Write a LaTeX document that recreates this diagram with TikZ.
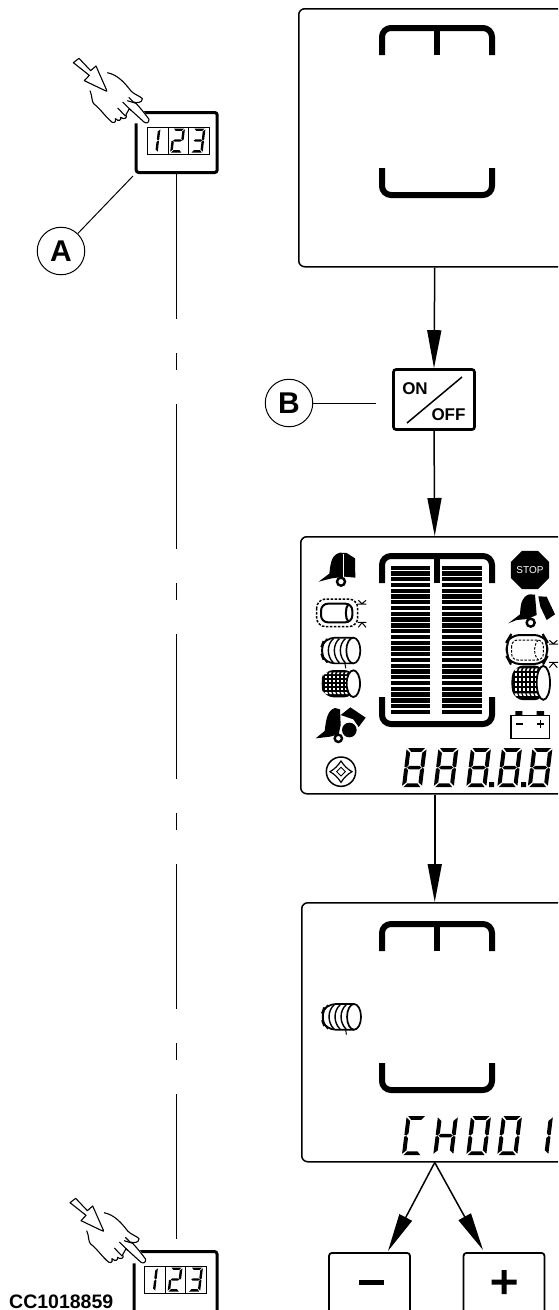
\documentclass[tikz,border=0pt]{standalone}
\usepackage{fontspec}
\setmainfont{Liberation Sans}
\usetikzlibrary{arrows.meta,shapes.geometric,calc}
\tikzset{
 panel/.style={draw=black,line width=1.5pt,rounded corners=6pt,fill=white,inner sep=0pt,anchor=north west},
 devbox/.style={draw=black,line width=3pt,rounded corners=2.5pt,fill=white,inner sep=0pt,minimum width=81pt,minimum height=60pt,anchor=north},
 onoffbox/.style={draw=black,line width=2.6pt,rounded corners=2.5pt,fill=white,inner sep=0pt,minimum width=81pt,minimum height=60pt},
 btnbox/.style={draw=black,line width=1.8pt,rounded corners=3pt,fill=white,inner sep=0pt,minimum width=81pt,minimum height=80pt,anchor=north},
 callout/.style={draw=black,line width=1pt,circle,minimum size=47.5pt,inner sep=0pt,font=\fontsize{30}{30}\selectfont\bfseries},
 arr/.style={line width=1.5pt,-{Triangle[length=38pt,width=14pt]}},
 lead/.style={line width=1pt},
 brk/.style={line width=6pt,rounded corners=9pt},
 lbl/.style={font=\fontsize{17}{17}\selectfont\bfseries,inner sep=0pt},
 icon/.style={shift={(290,525)},scale=1/3}
}
\def\sega{(1.5,0)--(18.5,0)--(15,4)--(5,4)--cycle}
\def\segb{(20,1.5)--(20,19)--(18,20)--(16,17.5)--(16,5)--cycle}
\def\segc{(20,21)--(20,38.5)--(16,35)--(16,22.5)--(18,20.5)--cycle}
\def\segd{(1.5,40)--(18.5,40)--(15,36)--(5,36)--cycle}
\def\sege{(0,21)--(2,20.5)--(4,22.5)--(4,35)--(0,38.5)--cycle}
\def\segf{(0,1.5)--(4,5)--(4,17.5)--(2,20)--(0,19)--cycle}
\def\segg{(2.8,20)--(5,18.3)--(15,18.3)--(17.2,20)--(15,21.7)--(5,21.7)--cycle}
\newcommand\sdig[5]{\begin{scope}[shift={(#1,#2)},xscale=#3,yscale=#4,xslant=.12]
 \foreach \s in {#5}{\fill \csname seg\s\endcsname;}\end{scope}}
\newcommand\bdig[3]{\sdig{#1}{#2}{1}{.98}{#3}}
\newcommand\disp[2]{\begin{scope}[shift={(#1,#2)}]
 \draw[line width=.8pt] (0,0) rectangle (62,27) (21,0)--(21,27) (41,0)--(41,27);
 \sdig{1.5}{1.5}{.6}{.6}{b,c}
 \sdig{26}{1.5}{.6}{.6}{a,b,g,e,d}
 \sdig{46.5}{1.5}{.6}{.6}{a,b,g,c,d}
 \end{scope}}
\newcommand\hand[2]{\begin{scope}[shift={(#1,#2)},scale=1/3,line width=1.1pt,fill=white,line join=round]
 \filldraw (70,68)--(87,55)--(122,92)--(138,78)--(172,155)--(103,122)--(118,106)--cycle;
 \fill (172,98)--(245,155)--(297,238)--(290,250)--(190,250)--(125,190)--(125,155)--(172,155)--cycle;
 \draw (172,98) .. controls (205,105) and (225,130) .. (243,153) .. controls (255,165) and (270,168) .. (277,176) .. controls (277,188) and (262,190) .. (250,186) -- (236,172);
 \draw (232,182) -- (258,190) .. controls (272,205) and (288,225) .. (297,238) .. controls (297,248) and (290,252) .. (282,246) -- (238,206);
 \draw (218,186) -- (244,212) (203,204) -- (226,228) (120,152) .. controls (128,170) and (124,185) .. (132,192) .. controls (150,205) and (170,235) .. (187,247) .. controls (195,250) and (200,242) .. (196,236) .. controls (205,246) and (216,240) .. (212,232) .. controls (222,240) and (234,234) .. (228,224) -- (238,206);
 \end{scope}}
\newcommand\brackets[2]{
 \draw[brk] (382,{#1+30}) -- (382,{#1+3}) -- (492,{#1+3}) -- (492,{#1+30});
 \draw[line width=5.5pt] (437,{#1+3}) -- (437,{#1+30});
 \draw[brk] (382,#2) -- (382,{#2+27}) -- (492,{#2+27}) -- (492,#2);}
\newcommand\twinebale[2]{\begin{scope}[shift={(#1,#2)},scale=1/3,line width=1.7pt]
 \draw[fill=white,rounded corners=10pt] (100,0) -- (14,0) -- (0,38) -- (14,77) -- (100,77);
 \foreach \x in {22,40,58,76}{\draw[line width=1.4pt] (\x,3) .. controls ({\x-20},20) and ({\x-20},56) .. (\x,75);}
 \draw[fill=white] (100,38.5) ellipse (21 and 38.5);
 \draw[line width=1pt] (75,77) -- (77,92);
 \end{scope}}
\newcommand\netbale[3]{\begin{scope}[shift={(#1,#2)},scale=1/3,yscale=#3]
 \fill[rounded corners=9pt] (100,0) -- (14,0) -- (0,40) -- (14,82) -- (100,82) -- cycle;
 \foreach \x in {14,26,38,50,62,74}{\foreach \y in {17,29,41,53}{\fill[white] (\x,\y) rectangle ++(8,7.5);}
   \fill[white] ({\x+3},7) -- ({\x+9},7) -- ({\x+6},12.5) -- (\x,12.5) -- cycle;
   \fill[white] (\x,66) -- ({\x+8},66) -- ({\x+10},72) -- ({\x+3},72) -- cycle;}
 \draw[fill=white,line width=1.8pt] (100,41) ellipse (20 and 40);
 \end{scope}}
\begin{document}
\begin{tikzpicture}[x=1pt,y=-1pt]
\useasboundingbox (0,0) rectangle (558,1310);
\clip (0,0) rectangle (558,1310);
% panels
\node[panel,minimum width=272pt,minimum height=258pt] (p1) at (298,8) {};
\node[onoffbox] (onoff) at (434,399.5) {};
\node[panel,minimum width=268pt,minimum height=257pt] (p3) at (300,536) {};
\node[panel,minimum width=266pt,minimum height=259pt] (p4) at (301,902) {};
\node[btnbox] (minus) at (369.5,1252) {};
\node[btnbox] (plus) at (504,1252) {};
\coordinate (mt) at (388,1251);
\coordinate (pt) at (483,1250);
% connectors
\draw[arr] (p1.south) -- (onoff.north);
\draw[arr] (onoff.south) -- (p3.north);
\draw[arr] (p3.south) -- (p4.north);
\draw[arr] (p4.south) -- (mt);
\draw[arr] (p4.south) -- (pt);
% panel brackets
\brackets{25}{168}
\brackets{553}{697}
\brackets{921}{1063}
% on/off
\node[lbl] (on) at (415,389) {ON};
\node[lbl] (off) at (448.5,415) {OFF};
\draw[line width=1.5pt] (407,423) -- (462,377);
% minus plus
\fill (359,1280) rectangle (384,1285);
\fill (491.5,1279.5) rectangle (516.5,1284.5) (501.5,1270) rectangle (506.5,1294);
% devices
\node[devbox] (devA) at (176.7,111) {};
\node[devbox,minimum width=83pt,minimum height=64pt] (devB) at (175.5,1250) {};
\draw[line width=1.5pt,dash pattern=on 145pt off 34pt on 17pt off 34pt] (devA.south) -- (devA.south |- devB.north);
\disp{147}{127}
\disp{144.5}{1266}
\hand{50}{40}
\hand{46.7}{1180}
% callouts
\node[callout] (circA) at (61,251) {A};
\node[callout] (circB) at (289,403) {B};
\coordinate (la) at (133,176);
\coordinate (lb) at (376,403);
\draw[lead] (circA) -- (la);
\draw[lead] (circB) -- (lb);
% LCD segments
\foreach \n/\sx in {0/406.7,1/438.5,2/471,3/502,4/532.5}{\bdig{\sx}{748}{a,b,c,d,e,f,g}}
\fill (489,782) rectangle ++(5,5) (521,782) rectangle ++(5,5);
\bdig{406.7}{1116}{a,d,e,f}
\bdig{438}{1116}{b,c,e,f,g}
\bdig{471}{1116}{a,b,c,d,e,f}
\bdig{502}{1116}{a,b,c,d,e,f}
\bdig{533}{1116}{b,c}
% bar graph
\foreach \i in {0,...,25}{
 \fill (391,{565.5+\i*5.77}) rectangle (430,{569.8+\i*5.77});
 \fill (442,{565.5+\i*5.77}) rectangle (481.5,{569.8+\i*5.77});}
% icons in zoom coordinates
\begin{scope}[icon]
 % baler top-left
 \fill (86,170) -- (118,146) .. controls (122,110) and (125,90) .. (150,83) -- (170,84) -- (195,100) -- (196,158) -- (165,155) -- (125,160) -- cycle;
 \draw[white,line width=.7pt] (160,88) -- (160,155);
 \draw[line width=2.4pt,fill=white] (153,170) circle (12);
 % dashed bale
 \draw[line width=1.5pt,dash pattern=on 2.5pt off 1.5pt,rounded corners=9pt] (80,222) rectangle (203,305);
 \draw[line width=2pt,rounded corners=7pt] (93,236) rectangle (187,292);
 \draw[line width=2pt] (175,237) .. controls (165,250) and (165,278) .. (175,291);
 \draw[line width=1pt] (203,237) -- (229,237) (205,226) -- (216,236) -- (228,226) (203,292) -- (229,292) (205,307) -- (216,293) -- (228,307);
 % baler bottom-left
 \fill (77,640) -- (104,618) .. controls (108,585) and (112,555) .. (135,549) -- (150,553) -- (152,600) -- (146,628) -- (120,635) -- cycle;
 \fill (178,615) circle (22);
 \fill (152,570) -- (181,547) -- (227,578) -- (206,606) -- (190,583) -- cycle;
 \draw[line width=2.4pt,fill=white] (145,640) circle (11);
 % knob
 \draw[line width=1.5pt] (153,740) circle (44);
 \draw[line width=1.2pt] (153,708) .. controls (162,722) and (172,732) .. (186,740) .. controls (172,748) and (162,758) .. (153,772) .. controls (144,758) and (134,748) .. (120,740) .. controls (134,732) and (144,722) .. (153,708) -- cycle;
 \draw[line width=.9pt] (153,727) -- (166,740) -- (153,753) -- (140,740) -- cycle;
 % stop
 \node[regular polygon,regular polygon sides=8,draw,line width=1pt,minimum size=38pt,inner sep=0pt] (stopo) at (720,135) {};
 \node[regular polygon,regular polygon sides=8,fill=black,minimum size=34pt,inner sep=0pt,text=white,font=\fontsize{10}{10}\selectfont] (stopi) at (720,135) {STOP};
 % baler right
 \fill (655,295) -- (690,268) .. controls (692,235) and (695,215) .. (718,208) -- (735,209) -- (740,270) -- (712,282) -- (680,285) -- cycle;
 \fill (745,214) -- (770,215) -- (795,268) -- (770,285) -- (751,245) -- cycle;
 \draw[line width=2.4pt,fill=white] (722,293) circle (12);
 % dotted bale right
 \draw[line width=2pt,rounded corners=9pt] (662,330) -- (650,350) -- (650,395) -- (662,417) -- (760,417) -- (772,395) -- (772,350) -- (760,330) -- cycle;
 \draw[line width=1pt,dash pattern=on 2.5pt off 1.5pt,rounded corners=6pt] (665,345) rectangle (760,405);
 \draw[line width=1pt,dash pattern=on 2.5pt off 1.5pt] (745,345) .. controls (730,360) and (730,390) .. (745,405);
 \draw[line width=1pt] (777,357) -- (804,357) (778,346) -- (790,356) -- (802,346) (777,412) -- (804,412) (778,428) -- (790,414) -- (802,428);
 % battery
 \fill (676,558) rectangle (697,572) (740,558) rectangle (762,572);
 \draw[line width=1.6pt] (663,572) rectangle (778,640);
 \draw[line width=1.6pt] (677,597) -- (698,597) (740,597) -- (762,597) (751,586) -- (751,608);
\end{scope}
% bales
\twinebale{320}{637.7}
\twinebale{320.7}{1004}
\netbale{320}{670}{1}
\netbale{510}{665.5}{1.27}
% label
\node[anchor=base west,inner sep=0pt,font=\fontsize{19.5}{19.5}\selectfont\bfseries] (cc) at (9,1308.5) {CC1018859};
\end{tikzpicture}
\end{document}
